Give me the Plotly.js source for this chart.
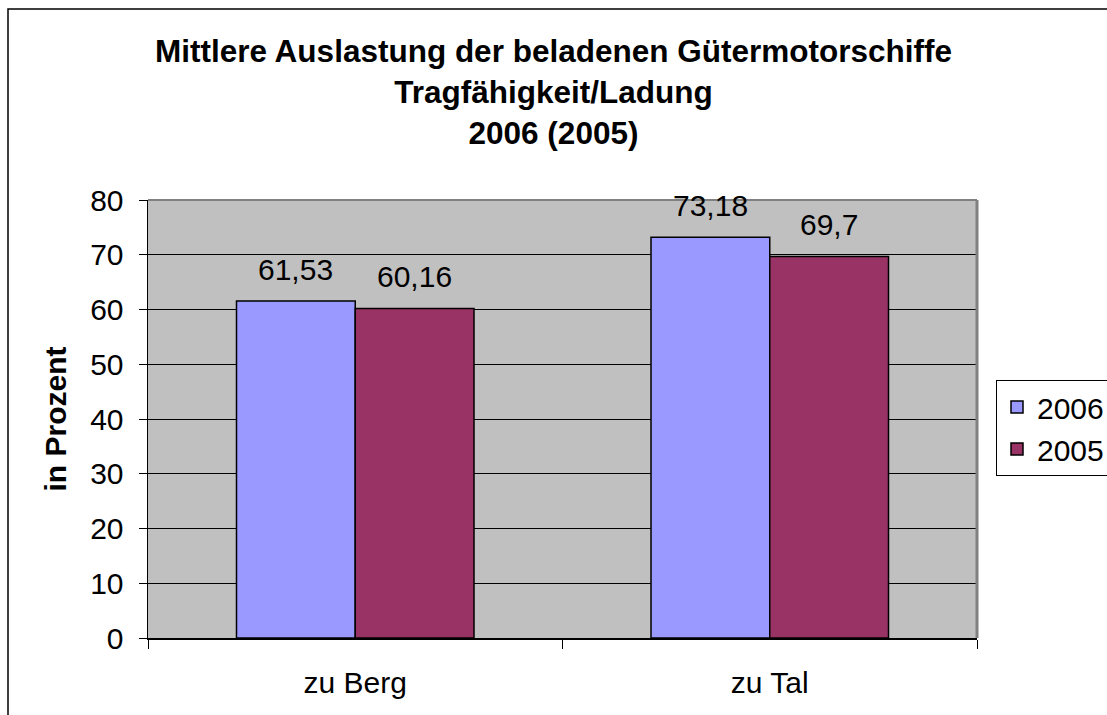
<!DOCTYPE html>
<html>
<head>
<meta charset="utf-8">
<script src="https://cdn.plot.ly/plotly-3.0.1.min.js"></script>
<style>html,body{margin:0;padding:0;background:#fff;}#chart{width:1107px;height:715px;}</style>
</head>
<body>
<div id="chart"></div>
<script>
const categories = ['zu Berg', 'zu Tal'];
const seriesNames = ['2006', '2005'];
const values2006 = [61.53, 73.18];
const values2005 = [60.16, 69.7];
const titleLines = ['Mittlere Auslastung der beladenen Gütermotorschiffe', 'Tragfähigkeit/Ladung', '2006 (2005)'];
const yTitle = 'in Prozent';

const FONT = 'Liberation Sans, Arial, Helvetica, sans-serif';
const colors = ['#9999FF', '#993366'];
const fmt = v => String(v).replace('.', ',');

const data = [values2006, values2005].map((vals, i) => ({
  type: 'bar',
  name: seriesNames[i],
  x: categories,
  y: vals,
  legendgroup: 'g' + i,
  marker: {color: colors[i], line: {color: '#000', width: 1.5}},
  hoverinfo: 'none'
}));

const bargap = 0.427;
const plotW = 1107 - 148 - 130;
const catW = plotW / categories.length;
const barW = catW * (1 - bargap) / 2;

const annotations = [];
[values2006, values2005].forEach((vals, i) => {
  vals.forEach((v, j) => {
    annotations.push({
      x: categories[j], y: v, xref: 'x', yref: 'y',
      text: fmt(v), showarrow: false,
      xshift: (i === 0 ? -1 : 1) * barW / 2,
      yshift: 32, yanchor: 'middle',
      font: {family: FONT, size: 30, color: '#000'}
    });
  });
});

const layout = {
  width: 1107, height: 715,
  margin: {l: 148, r: 130, t: 200, b: 77, pad: 0},
  paper_bgcolor: '#fff',
  plot_bgcolor: '#C0C0C0',
  separators: ',.',
  font: {family: FONT, size: 30, color: '#000'},
  title: {
    text: titleLines.join('<br>'),
    font: {family: FONT, size: 31.5, color: '#000', weight: 'bold'},
    x: 0.5, xref: 'container', xanchor: 'center',
    y: 1 - 62 / 715, yref: 'container', yanchor: 'middle'
  },
  barmode: 'group',
  bargap: bargap,
  bargroupgap: 0,
  showlegend: true,
  legend: {
    xref: 'container', yref: 'container',
    x: 996 / 1107, y: 1 - 380 / 715, xanchor: 'left', yanchor: 'top',
    bgcolor: '#fff', bordercolor: '#000', borderwidth: 1,
    font: {family: FONT, size: 30, color: '#000'},
    traceorder: 'normal', tracegroupgap: 1, itemwidth: 30
  },
  xaxis: {
    type: 'category',
    showgrid: false,
    showline: true, linecolor: '#000', linewidth: 1.5,
    ticks: 'outside', tickson: 'boundaries', ticklen: 9, tickcolor: '#000', tickwidth: 1,
    ticklabelstandoff: 17,
    tickfont: {family: FONT, size: 30, color: '#000'},
    zeroline: false, fixedrange: true
  },
  yaxis: {
    range: [0, 80], dtick: 10, tick0: 0,
    showgrid: true, gridcolor: '#000', gridwidth: 1,
    showline: true, linecolor: '#000', linewidth: 1.5,
    ticks: 'outside', ticklen: 8, tickcolor: '#000', tickwidth: 1,
    ticklabelstandoff: 9,
    tickfont: {family: FONT, size: 30, color: '#000'},
    zeroline: false, fixedrange: true,
    title: {text: yTitle, font: {family: FONT, size: 30, color: '#000', weight: 'bold'}, standoff: 14}
  },
  shapes: [
    {type: 'line', xref: 'paper', yref: 'paper', x0: 0, x1: 1, y0: 1, y1: 1, line: {color: '#808080', width: 2}},
    {type: 'line', xref: 'paper', yref: 'paper', x0: 1, x1: 1, y0: 0, y1: 1, line: {color: '#808080', width: 3}},
    {type: 'rect', xref: 'paper', yref: 'paper', x0: (8 - 148) / plotW, x1: 1.4, y0: (638 - 9) / 438, y1: -0.4, line: {color: '#000', width: 1.5}, fillcolor: 'rgba(0,0,0,0)'}
  ],
  annotations: annotations
};

Plotly.newPlot('chart', data, layout, {staticPlot: true, displayModeBar: false});
</script>
</body>
</html>
